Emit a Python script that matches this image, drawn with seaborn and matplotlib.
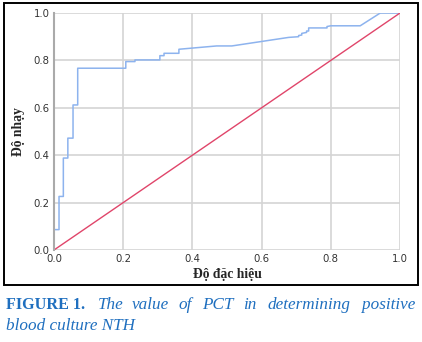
import matplotlib
matplotlib.use("Agg")
import matplotlib.pyplot as plt
import seaborn as sns
import pandas as pd
from matplotlib.patches import Rectangle

# ROC curve (1 - specificity on x, sensitivity on y)
roc_x = [0.0, 0.0, 0.0145, 0.0145, 0.027, 0.027, 0.040, 0.040, 0.055, 0.055,
         0.0685, 0.0685, 0.2075, 0.2075, 0.234, 0.234, 0.306, 0.306, 0.318, 0.318,
         0.361, 0.361, 0.47, 0.514, 0.678, 0.707, 0.707, 0.716, 0.716, 0.73, 0.73,
         0.736, 0.736, 0.789, 0.789, 0.80, 0.885, 0.943, 1.0]
roc_y = [0.0, 0.086, 0.086, 0.226, 0.226, 0.388, 0.388, 0.472, 0.472, 0.612,
         0.612, 0.767, 0.767, 0.795, 0.795, 0.802, 0.802, 0.82, 0.82, 0.83,
         0.83, 0.847, 0.861, 0.861, 0.897, 0.90, 0.905, 0.907, 0.914, 0.918, 0.924,
         0.924, 0.937, 0.937, 0.943, 0.946, 0.946, 1.0, 1.0]
ref_x = [0.0, 1.0]
ref_y = [0.0, 1.0]
ticks = [0.0, 0.2, 0.4, 0.6, 0.8, 1.0]
xlabel = "Độ đặc hiệu"
ylabel = "Độ nhạy"
caption_bold = "FIGURE 1."
caption_line1 = ["The", "value", "of", "PCT", "in", "determining", "positive"]
caption_line2 = "blood culture NTH"

sns.set_theme(style="whitegrid")
plt.rcParams['font.family'] = ['DejaVu Sans']

W, H = 422, 342
fig = plt.figure(figsize=(W / 100, H / 100), dpi=100)
ax = fig.add_axes([54 / W, 1 - 250 / H, 346 / W, 237 / H])

roc_df = pd.DataFrame({"x": roc_x, "y": roc_y})
ref_df = pd.DataFrame({"x": ref_x, "y": ref_y})
sns.lineplot(data=roc_df, x="x", y="y", sort=False, estimator=None, ax=ax,
             color="#8db3ee", linewidth=1.1)
sns.lineplot(data=ref_df, x="x", y="y", sort=False, estimator=None, ax=ax,
             color="#e0456a", linewidth=1.0)

ax.set_xlim(0, 1)
ax.set_ylim(0, 1)
ax.set_xticks(ticks)
ax.set_yticks(ticks)
ax.set_xticklabels([f"{t:.1f}" for t in ticks])
ax.set_yticklabels([f"{t:.1f}" for t in ticks])
ax.tick_params(axis="both", labelsize=7.3, colors="#333333", length=0, pad=3)
ax.grid(True, color="#d4d4d4", linewidth=1.2)
ax.set_facecolor("white")
for s in ["top", "right", "bottom"]:
    ax.spines[s].set_visible(False)
ax.spines["left"].set_color("#aaaaaa")
ax.spines["left"].set_linewidth(1.5)

ax.set_xlabel(xlabel, family="Liberation Serif", fontweight="bold", fontsize=9.8, labelpad=3)
ax.set_ylabel(ylabel, family="Liberation Serif", fontweight="bold", fontsize=9.8, labelpad=6)

# document frame
fig.patches.append(Rectangle((4 / W, 1 - 285 / H), 414 / W, 282 / H,
                             transform=fig.transFigure, fill=False,
                             edgecolor="black", linewidth=1.4))

blue = "#1f6fbf"
def fx(px):
    return px / W
def fy(py):
    return 1 - py / H

fs = 12.3
fig.text(fx(6), fy(309), caption_bold, family="Liberation Serif", fontweight="bold",
         fontsize=11.6, color=blue, va="baseline", ha="left")
word_x = [98, 132, 178, 202, 243, 267, 415]
for i, (wx, w) in enumerate(zip(word_x, caption_line1)):
    fig.text(fx(wx), fy(309), w, family="Liberation Serif", style="italic",
             fontsize=fs, color=blue, va="baseline",
             ha="right" if i == len(caption_line1) - 1 else "left")
fig.text(fx(6), fy(330), caption_line2, family="Liberation Serif", style="italic",
         fontsize=fs, color=blue, va="baseline", ha="left")

fig.savefig("out.png", dpi=100)
